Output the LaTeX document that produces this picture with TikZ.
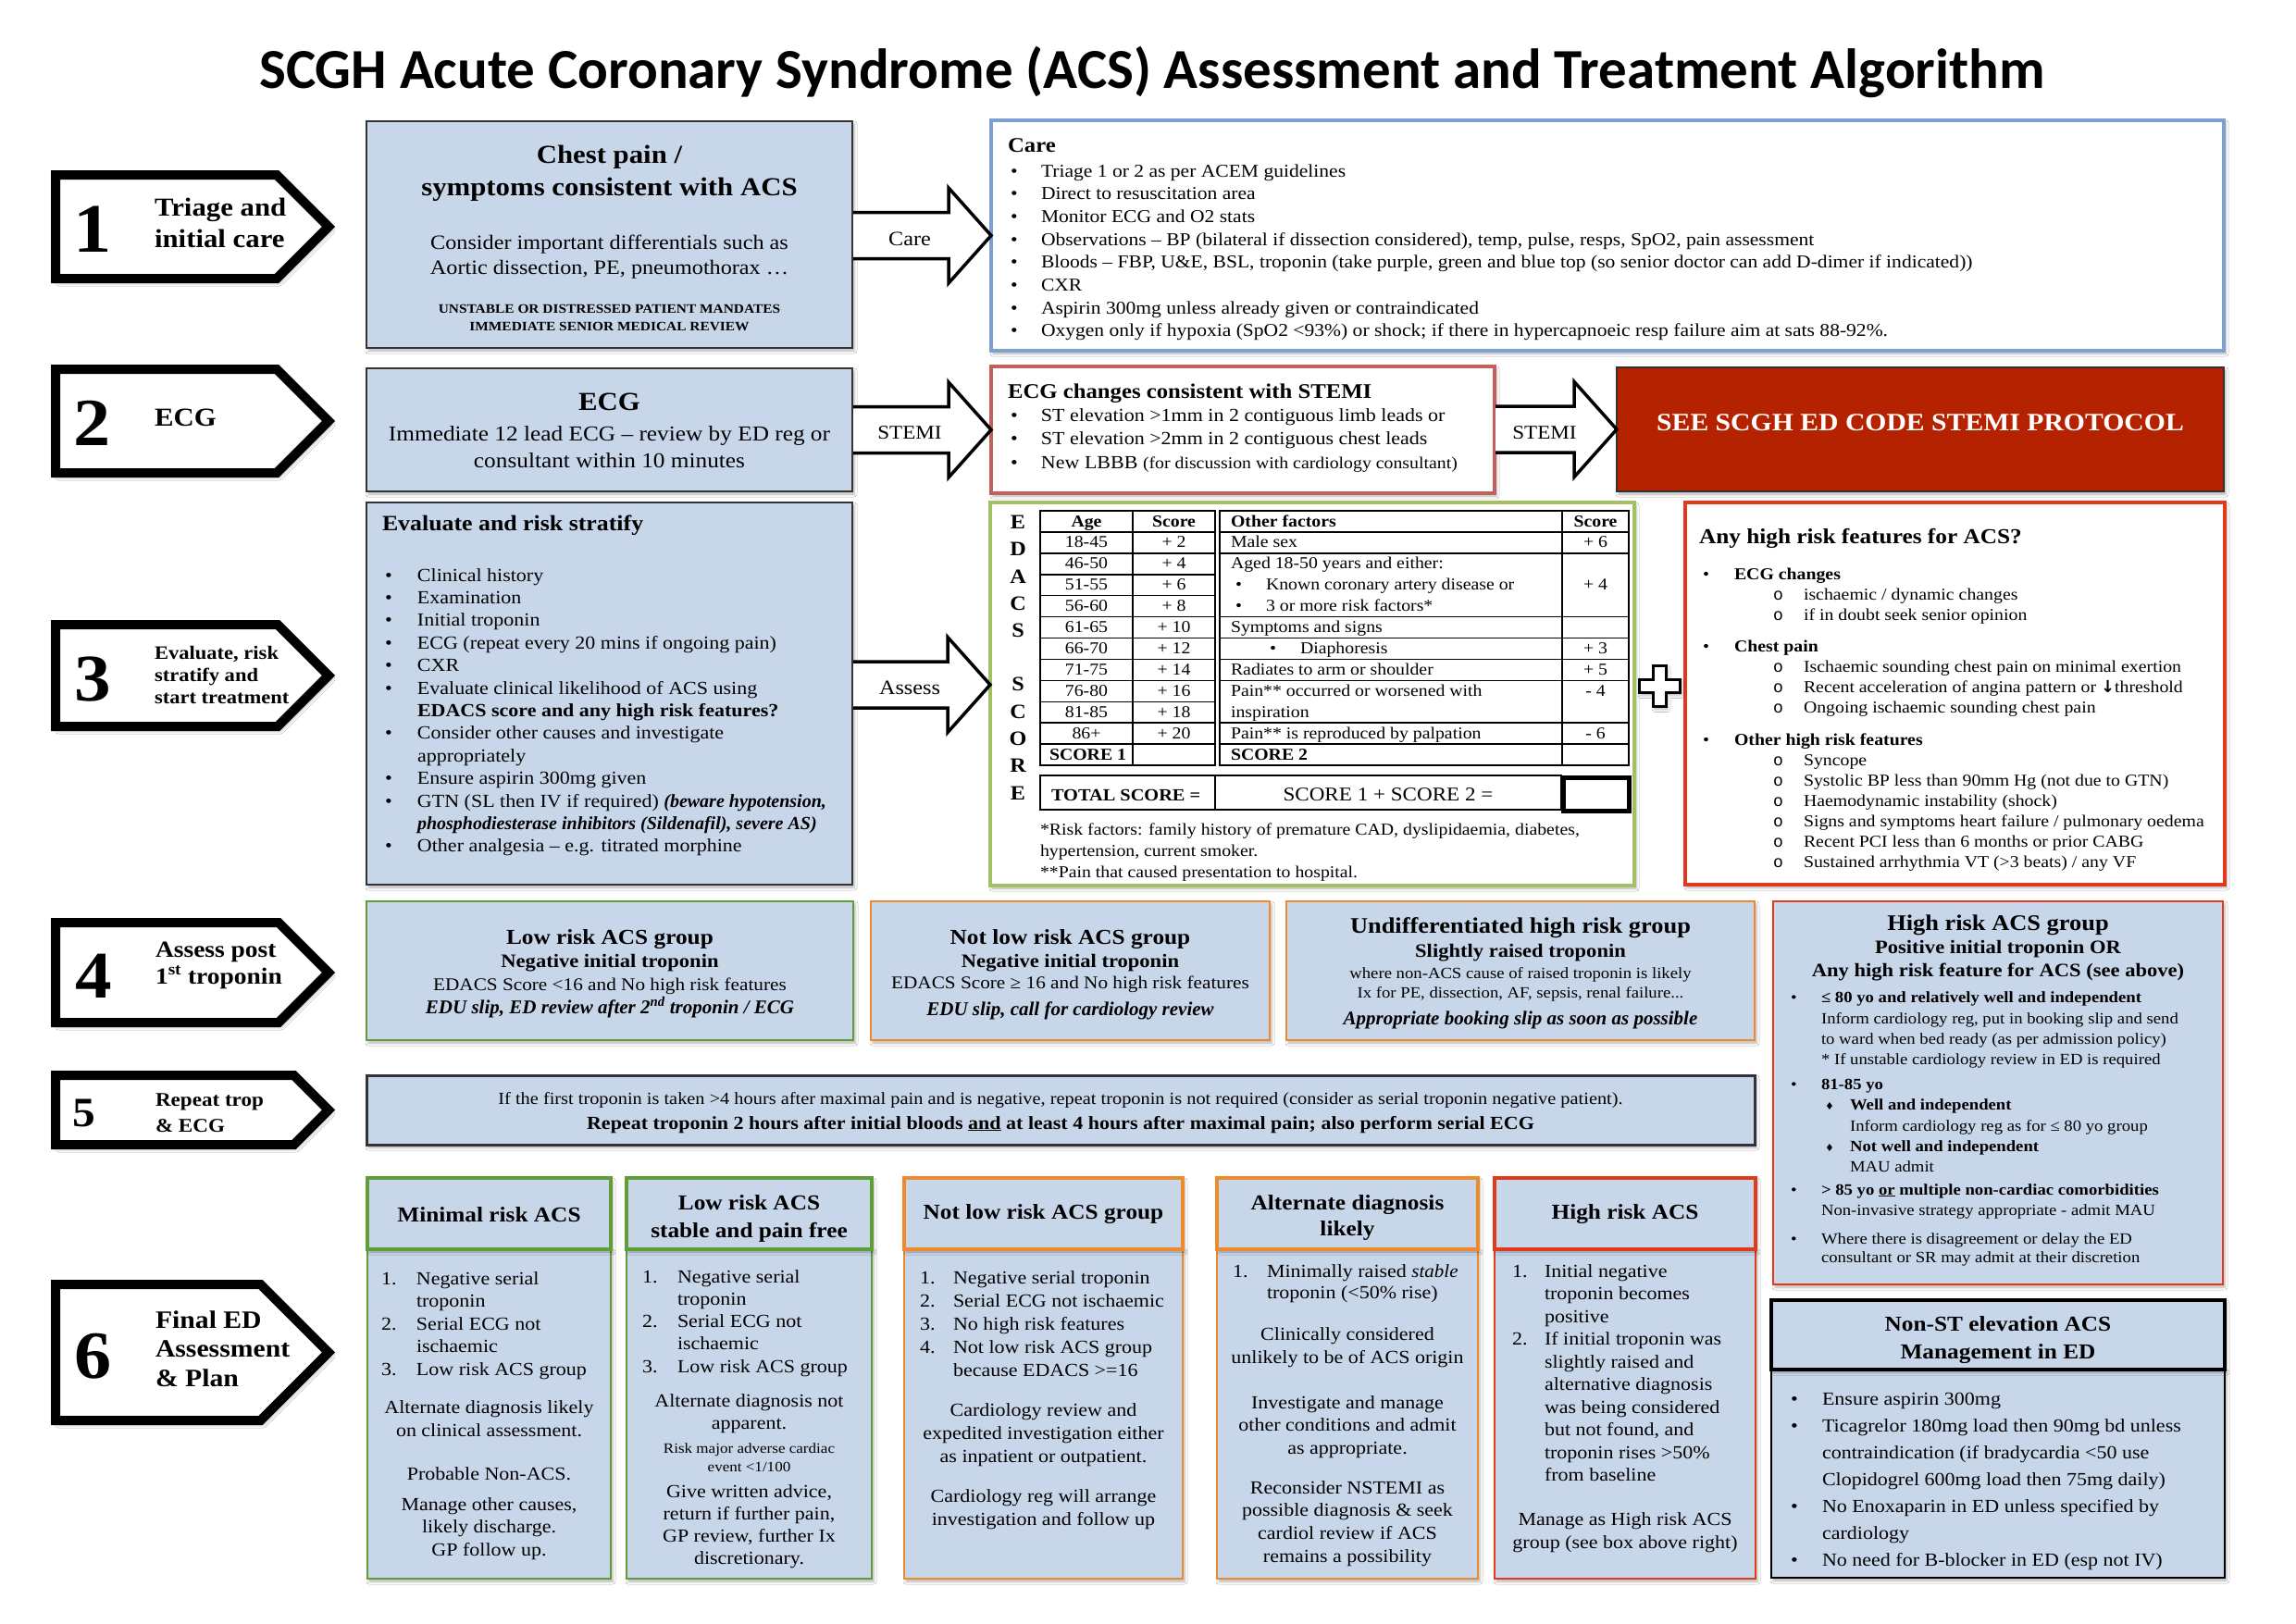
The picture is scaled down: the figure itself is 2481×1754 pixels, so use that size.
\documentclass[tikz,border=0pt]{standalone}
\usepackage{fontspec}
\setmainfont{Liberation Serif}[UprightFeatures={FakeStretch=1.1},BoldFeatures={FakeStretch=1.1},ItalicFeatures={FakeStretch=1.05},BoldItalicFeatures={FakeStretch=1.0}]
\newfontfamily\titlefont{Carlito}
\newfontfamily\symfont{DejaVu Sans}
\newfontfamily\bulmono{Liberation Mono}
\usetikzlibrary{calc,shadows.blur}
\definecolor{lblue}{HTML}{C8D6EA}
\definecolor{careblue}{HTML}{7E9FD1}
\definecolor{stemirose}{HTML}{C2605C}
\definecolor{stemired}{HTML}{B52200}
\definecolor{edgreen}{HTML}{A3C163}
\definecolor{grn}{HTML}{5F9E36}
\definecolor{org}{HTML}{EE8A2B}
\definecolor{hred}{HTML}{E2381B}
\definecolor{dgrey}{HTML}{333333}
\newcommand\fs[2]{\fontsize{#1pt}{#2pt}\selectfont}
\newcommand\bu[1]{\makebox[#1pt][l]{•}}
\newcommand\ob[1]{\makebox[#1pt][l]{{\bulmono o}}}
\newcommand\nm[2]{\makebox[#1pt][l]{#2}}
\newcommand\dia[1]{\makebox[#1pt][l]{{\symfont\fontsize{11pt}{11pt}\selectfont ♦}}}
\newcommand\ind[1]{\hspace*{#1pt}}
\newcommand\lt[1]{\begin{tabular}[t]{@{}l@{}}#1\end{tabular}}
\newcommand\ct[1]{\begin{tabular}[t]{@{}c@{}}#1\end{tabular}}
\newcommand\mkbox[6]{\node[#1,minimum width=#5pt-#3pt,minimum height=#6pt-#4pt] (#2) at (#3,#4) {};}
\newcommand\steparrow[2]{\draw[stepbox] (60,#1) -- ({355-(#2-#1)/2},#1) -- (355,{(#1+#2)/2}) -- ({355-(#2-#1)/2},#2) -- (60,#2) -- cycle;}
\newcommand\blockarr[2]{\draw[blockarrow] ($(#1 |- #2)+(1,-25)$) -- ($(#2)+(-46,-25)$) -- ($(#2)+(-46,-51.5)$) -- (#2) -- ($(#2)+(-46,51.5)$) -- ($(#2)+(-46,25)$) -- ($(#1 |- #2)+(1,25)$);}
\begin{document}
\begin{tikzpicture}[x=1pt,y=-1pt,
  every node/.style={inner sep=0pt,outer sep=0pt},
  shd/.style={blur shadow={shadow xshift=2pt,shadow yshift=-3pt,shadow blur radius=3pt,shadow opacity=30}},
  bx/.style={rectangle,draw,anchor=north west,shd},
  lbx/.style={bx,fill=lblue,draw=dgrey,line width=2pt},
  carebx/.style={bx,fill=white,draw=careblue,line width=4pt},
  stemibx/.style={bx,fill=white,draw=stemirose,line width=4pt},
  redbx/.style={bx,fill=stemired,draw=dgrey,line width=1.5pt},
  edbx/.style={bx,fill=white,draw=edgreen,line width=4pt},
  hrfbx/.style={bx,fill=white,draw=hred,line width=4pt},
  rowfour/.style={bx,fill=lblue,draw=#1,line width=2pt},
  hdr/.style={bx,fill=lblue,draw=#1,line width=4.5pt},
  bdy/.style={bx,fill=lblue,draw=#1,line width=1.5pt},
  tl/.style={anchor=base west},
  tc/.style={anchor=base},
  stepbox/.style={draw=black,line width=10pt,fill=white,line join=miter,blur shadow={shadow xshift=3pt,shadow yshift=-4pt,shadow blur radius=4pt,shadow opacity=40}},
  blockarrow/.style={draw=black,line width=3.5pt,fill=white,line join=miter},
  tbl/.style={draw=black,line width=1.5pt},
  plusst/.style={draw=black,line width=3pt,fill=white,line join=miter,shd}
]
\fill[white] (0,0) rectangle (2481,1754);
\useasboundingbox (0,0) rectangle (2481,1754);

% title
\node[tc,font=\titlefont\bfseries\fs{61}{61}] (title) at (1245,95) {SCGH Acute Coronary Syndrome (ACS) Assessment and Treatment Algorithm};

% step arrows
\steparrow{189}{301}
\steparrow{399}{511}
\steparrow{675}{785}
\steparrow{997}{1105}
\steparrow{1162}{1237}
\steparrow{1388}{1535}
\node[tc,font=\bfseries\fs{75}{75}] (n1) at (100,272) {1};
\node[tc,font=\bfseries\fs{73}{73}] (n2) at (100,481) {2};
\node[tc,font=\bfseries\fs{72}{72}] (n3) at (100,757) {3};
\node[tc,font=\bfseries\fs{72}{72}] (n4) at (101,1078) {4};
\node[tc,font=\bfseries\fs{45}{45}] (n5) at (91,1217) {5};
\node[tc,font=\bfseries\fs{73}{73}] (n6) at (101,1489) {6};
\node[tl,font=\bfseries\fs{28}{34}] (s1) at (167,233) {\lt{Triage and\\initial care}};
\node[tl,font=\bfseries\fs{28}{34}] (s2) at (167,460) {ECG};
\node[tl,font=\bfseries\fs{20.5}{24}] (s3) at (167,712) {\lt{Evaluate, risk\\stratify and\\start treatment}};
\node[tl,font=\bfseries\fs{25}{29}] (s4) at (168,1034) {\lt{Assess post\\1\textsuperscript{st} troponin}};
\node[tl,font=\bfseries\fs{21}{28}] (s5) at (168,1195) {\lt{Repeat trop\\\& ECG}};
\node[tl,font=\bfseries\fs{27}{31.5}] (s6) at (168,1435) {\lt{Final ED\\Assessment\\\& Plan}};

% row 1
\mkbox{lbx}{chest}{396}{131}{921}{376}
\mkbox{carebx}{care}{1071}{130}{2403}{379}
\node[tc,font=\bfseries\fs{28}{35}] (chestT) at (658.5,176) {\ct{Chest pain /\\symptoms consistent with ACS}};
\node[tc,font=\fs{22}{27}] (chestB) at (658.5,269) {\ct{Consider important differentials such as\\Aortic dissection, PE, pneumothorax …}};
\node[tc,font=\bfseries\fs{14}{19}] (chestU) at (658.5,338) {\ct{UNSTABLE OR DISTRESSED PATIENT MANDATES\\IMMEDIATE SENIOR MEDICAL REVIEW}};
\node[tl,font=\bfseries\fs{22.5}{25}] (careT) at (1089,164) {Care};
\node[tl,font=\fs{19.6}{24.7}] (careL) at (1092,191) {\lt{\bu{33}Triage 1 or 2 as per ACEM guidelines\\
\bu{33}Direct to resuscitation area\\
\bu{33}Monitor ECG and O2 stats\\
\bu{33}Observations – BP (bilateral if dissection considered), temp, pulse, resps, SpO2, pain assessment\\
\bu{33}Bloods – FBP, U\&E, BSL, troponin (take purple, green and blue top (so senior doctor can add D-dimer if indicated))\\
\bu{33}CXR\\
\bu{33}Aspirin 300mg unless already given or contraindicated\\
\bu{33}Oxygen only if hypoxia (SpO2 <93\%) or shock; if there in hypercapnoeic resp failure aim at sats 88-92\%.}};
\blockarr{chest.east}{care.west}
\node[tc,font=\fs{22}{22}] (lcare) at (983,265) {Care};

% row 2
\mkbox{lbx}{ecg}{396}{398}{921}{531}
\mkbox{stemibx}{stemi}{1071}{396}{1615}{533}
\mkbox{redbx}{redbox}{1747}{397}{2403}{531}
\node[tc,font=\bfseries\fs{28}{35}] (ecgT) at (658.5,443) {ECG};
\node[tc,font=\fs{23}{29}] (ecgB) at (658.5,476) {\ct{Immediate 12 lead ECG – review by ED reg or\\consultant within 10 minutes}};
\node[tl,font=\bfseries\fs{22.5}{25}] (stemiT) at (1089,430) {ECG changes consistent with STEMI};
\node[tl,font=\fs{20}{25.5}] (stemiL) at (1092,455) {\lt{\bu{33}ST elevation >1mm in 2 contiguous limb leads or\\
\bu{33}ST elevation >2mm in 2 contiguous chest leads\\
\bu{33}New LBBB {\fs{18}{25.5}(for discussion with cardiology consultant)}}};
\node[tc,font=\bfseries\fs{27}{27},text=white] (redT) at (2075,465) {SEE SCGH ED CODE STEMI PROTOCOL};
\blockarr{ecg.east}{stemi.west}
\blockarr{stemi.east}{redbox.west}
\node[tc,font=\fs{21}{21}] (lstemi1) at (983,474) {STEMI};
\node[tc,font=\fs{21}{21}] (lstemi2) at (1669,474) {STEMI};

% row 3
\mkbox{lbx}{eval}{396}{543}{921}{956}
\mkbox{edbx}{edacs}{1070}{543}{1766}{957}
\mkbox{hrfbx}{hrf}{1821}{543}{2404}{956}
\coordinate (assesstip) at (1070,740);
\blockarr{eval.east}{assesstip}
\node[tc,font=\fs{22}{22}] (lassess) at (983,750) {Assess};
\node[tl,font=\bfseries\fs{23.5}{25}] (evalT) at (413,573) {Evaluate and risk stratify};
\node[tl,font=\fs{20}{24.4}] (evalL) at (416,628) {\lt{\bu{35}Clinical history\\
\bu{35}Examination\\
\bu{35}Initial troponin\\
\bu{35}ECG (repeat every 20 mins if ongoing pain)\\
\bu{35}CXR\\
\bu{35}Evaluate clinical likelihood of ACS using\\
\ind{35}\textbf{EDACS score and any high risk features?}\\
\bu{35}Consider other causes and investigate\\
\ind{35}appropriately\\
\bu{35}Ensure aspirin 300mg given\\
\bu{35}GTN (SL then IV if required) \textbf{\textit{(beware hypotension,}}\\
\ind{35}\textbf{\textit{phosphodiesterase inhibitors (Sildenafil), severe AS)}}\\
\bu{35}Other analgesia – e.g. titrated morphine}};

% EDACS
\foreach \L/\Y [count=\k] in {E/571,D/600.5,A/630,C/659,S/688,S/746.5,C/776,O/805,R/834.5,E/864}
  {\node[tc,font=\bfseries\fs{22}{22}] (ed\k) at (1100,\Y) {\L};}
\draw[tbl] (1124,552) rectangle (1313,827);
\draw[tbl] (1224,552) -- (1224,827);
\foreach \i in {1,...,11} {\draw[tbl] (1124,{552+22.92*\i}) -- (1313,{552+22.92*\i});}
\draw[tbl] (1318,552) rectangle (1760,827);
\draw[tbl] (1688,552) -- (1688,827);
\foreach \i in {1,2,5,6,7,8,10,11} {\draw[tbl] (1318,{552+22.92*\i}) -- (1760,{552+22.92*\i});}
\draw[tbl] (1124,838) rectangle (1687,875);
\draw[tbl] (1313,838) -- (1313,875);
\draw[draw=black,line width=5pt] (1689,840) rectangle (1760,876);
\node[tc,font=\fs{18}{22.92}] (agecol) at (1174,569) {\ct{\textbf{Age}\\18-45\\46-50\\51-55\\56-60\\61-65\\66-70\\71-75\\76-80\\81-85\\86+}};
\node[tc,font=\fs{18}{22.92}] (sc1col) at (1268.5,569) {\ct{\textbf{Score}\\+ 2\\+ 4\\+ 6\\+ 8\\+ 10\\+ 12\\+ 14\\+ 16\\+ 18\\+ 20}};
\node[tl,font=\bfseries\fs{18}{22.92}] (score1) at (1134,821) {SCORE 1};
\node[tl,font=\fs{18}{22.92}] (othcol) at (1330,569) {\lt{\textbf{Other factors}\\Male sex\\Aged 18-50 years and either:\\
\ind{5}\bu{33}Known coronary artery disease or\\
\ind{5}\bu{33}3 or more risk factors*\\
Symptoms and signs\\
\ind{42}\bu{33}Diaphoresis\\
Radiates to arm or shoulder\\
Pain** occurred or worsened with\\
inspiration\\
Pain** is reproduced by palpation\\
\textbf{SCORE 2}}};
\node[tc,font=\fs{18}{22.92}] (sc2col) at (1724,569) {\ct{\textbf{Score}\\+ 6\\\mbox{}\\+ 4\\\mbox{}\\\mbox{}\\+ 3\\+ 5\\- 4\\\mbox{}\\- 6}};
\node[tl,font=\bfseries\fs{18.5}{21}] (total) at (1136,865) {TOTAL SCORE =};
\node[tc,font=\fs{21}{21}] (sum) at (1500,865) {SCORE 1 + SCORE 2 =};
\node[tl,font=\fs{18}{23}] (foot) at (1124,902) {\lt{*Risk factors: family history of premature CAD, dyslipidaemia, diabetes,\\hypertension, current smoker.\\{}**Pain that caused presentation to hospital.}};

% plus
\draw[plusst] (1786,719.5) -- (1800,719.5) -- (1800,734.5) -- (1815,734.5) -- (1815,748.5) -- (1800,748.5) -- (1800,763.5) -- (1786,763.5) -- (1786,748.5) -- (1771,748.5) -- (1771,734.5) -- (1786,734.5) -- cycle;

% high risk features
\node[tl,font=\bfseries\fs{23}{25}] (hrfT) at (1836,587) {Any high risk features for ACS?};
\node[tl,font=\fs{18}{22}] (hrfL) at (1840,626) {\lt{\bu{34}\textbf{ECG changes}\\
\ind{76}\ob{33}ischaemic / dynamic changes\\
\ind{76}\ob{33}if in doubt seek senior opinion\\[12pt]
\bu{34}\textbf{Chest pain}\\
\ind{76}\ob{33}Ischaemic sounding chest pain on minimal exertion\\
\ind{76}\ob{33}Recent acceleration of angina pattern or {\symfont\bfseries ↓}threshold\\
\ind{76}\ob{33}Ongoing ischaemic sounding chest pain\\[13pt]
\bu{34}\textbf{Other high risk features}\\
\ind{76}\ob{33}Syncope\\
\ind{76}\ob{33}Systolic BP less than 90mm Hg (not due to GTN)\\
\ind{76}\ob{33}Haemodynamic instability (shock)\\
\ind{76}\ob{33}Signs and symptoms heart failure / pulmonary oedema\\
\ind{76}\ob{33}Recent PCI less than 6 months or prior CABG\\
\ind{76}\ob{33}Sustained arrhythmia VT (>3 beats) / any VF}};

% row 4
\mkbox{rowfour=grn}{low4}{396}{974}{922}{1124}
\mkbox{rowfour=org}{notlow4}{941}{974}{1372}{1124}
\mkbox{rowfour=org}{undiff4}{1390}{974}{1896}{1124}
\mkbox{rowfour=hred}{high4}{1916}{974}{2402}{1388}
\node[tc,font=\bfseries\fs{23}{25}] (low4a) at (659,1020) {Low risk ACS group};
\node[tc,font=\bfseries\fs{20.5}{25}] (low4b) at (659,1045) {Negative initial troponin};
\node[tc,font=\fs{19.3}{25}] (low4c) at (659,1070) {EDACS Score <16 and No high risk features};
\node[tc,font=\bfseries\itshape\fs{21}{25}] (low4d) at (659,1095) {EDU slip, ED review after 2\textsuperscript{nd} troponin / ECG};
\node[tc,font=\bfseries\fs{23}{25}] (nl4a) at (1156.5,1020) {Not low risk ACS group};
\node[tc,font=\bfseries\fs{20.5}{25}] (nl4b) at (1156.5,1045) {Negative initial troponin};
\node[tc,font=\fs{19.3}{25}] (nl4c) at (1156.5,1068) {EDACS Score ≥ 16 and No high risk features};
\node[tc,font=\bfseries\itshape\fs{21}{25}] (nl4d) at (1156.5,1097) {EDU slip, call for cardiology review};
\node[tc,font=\bfseries\fs{24}{25}] (ud4a) at (1643,1008) {Undifferentiated high risk group};
\node[tc,font=\bfseries\fs{20.5}{25}] (ud4b) at (1643,1034) {Slightly raised troponin};
\node[tc,font=\fs{17}{21}] (ud4c) at (1643,1057) {\ct{where non-ACS cause of raised troponin is likely\\Ix for PE, dissection, AF, sepsis, renal failure...}};
\node[tc,font=\bfseries\itshape\fs{21}{25}] (ud4d) at (1643,1107) {Appropriate booking slip as soon as possible};
\node[tc,font=\bfseries\fs{24}{25}] (h4a) at (2159,1005) {High risk ACS group};
\node[tc,font=\bfseries\fs{20.5}{25}] (h4b) at (2159,1030) {\ct{Positive initial troponin OR\\Any high risk feature for ACS (see above)}};
\node[tl,font=\fs{17}{22}] (h4L) at (1935,1083) {\lt{\bu{33}\textbf{≤ 80 yo and relatively well and independent}\\[1pt]
\ind{33}Inform cardiology reg, put in booking slip and send\\
\ind{33}to ward when bed ready (as per admission policy)\\
\ind{33}* If unstable cardiology review in ED is required\\[5pt]
\bu{33}\textbf{81-85 yo}\\
\ind{37}\dia{27}\textbf{Well and independent}\\[1pt]
\ind{64}Inform cardiology reg as for ≤ 80 yo group\\
\ind{37}\dia{27}\textbf{Not well and independent}\\
\ind{64}MAU admit\\[3pt]
\bu{33}\textbf{> 85 yo \underline{or} multiple non-cardiac comorbidities}\\
\ind{33}Non-invasive strategy appropriate - admit MAU\\[9pt]
\bu{33}Where there is disagreement or delay the ED\\[-2pt]
\ind{33}consultant or SR may admit at their discretion}};

% row 5
\mkbox{lbx,line width=3pt}{rep5}{396}{1162}{1896}{1237}
\node[tc,font=\fs{18.5}{27}] (rep5a) at (1146,1193) {If the first troponin is taken >4 hours after maximal pain and is negative, repeat troponin is not required (consider as serial troponin negative patient).};
\node[tc,font=\bfseries\fs{20}{27}] (rep5b) at (1146,1220) {Repeat troponin 2 hours after initial bloods \underline{and} at least 4 hours after maximal pain; also perform serial ECG};

% row 6 bodies and headers
\mkbox{bdy=grn}{min6b}{397}{1350}{660}{1706}
\mkbox{hdr=grn}{min6h}{397}{1273}{660}{1350}
\mkbox{bdy=grn}{ls6b}{677}{1350}{942}{1706}
\mkbox{hdr=grn}{ls6h}{677}{1273}{942}{1350}
\mkbox{bdy=org}{nl6b}{977}{1350}{1278}{1706}
\mkbox{hdr=org}{nl6h}{977}{1273}{1278}{1350}
\mkbox{bdy=org}{alt6b}{1315}{1350}{1597}{1706}
\mkbox{hdr=org}{alt6h}{1315}{1273}{1597}{1350}
\mkbox{bdy=hred}{hi6b}{1615}{1350}{1897}{1706}
\mkbox{hdr=hred}{hi6h}{1615}{1273}{1897}{1350}
\mkbox{bdy=black}{ns6b}{1914}{1480}{2404}{1705}
\mkbox{hdr=black}{ns6h}{1914}{1405}{2404}{1480}

\node[tc,font=\bfseries\fs{23}{30}] (min6t) at (528.5,1320) {Minimal risk ACS};
\node[tl,font=\fs{20}{24.5}] (min6l) at (412,1388) {\lt{\nm{38}{1.}Negative serial\\\ind{38}troponin\\\nm{38}{2.}Serial ECG not\\\ind{38}ischaemic\\\nm{38}{3.}Low risk ACS group}};
\node[tc,font=\fs{20}{25}] (min6c) at (528.5,1527) {\ct{Alternate diagnosis likely\\on clinical assessment.}};
\node[tc,font=\fs{20}{24.5}] (min6d) at (528.5,1599) {Probable Non-ACS.};
\node[tc,font=\fs{20}{24.5}] (min6e) at (528.5,1632) {\ct{Manage other causes,\\likely discharge.\\GP follow up.}};

\node[tc,font=\bfseries\fs{23}{30}] (ls6t) at (809.5,1307) {\ct{Low risk ACS\\stable and pain free}};
\node[tl,font=\fs{20}{24.3}] (ls6l) at (694,1386) {\lt{\nm{38}{1.}Negative serial\\\ind{38}troponin\\\nm{38}{2.}Serial ECG not\\\ind{38}ischaemic\\\nm{38}{3.}Low risk ACS group}};
\node[tc,font=\fs{20}{24}] (ls6c) at (809.5,1520) {\ct{Alternate diagnosis not\\apparent.}};
\node[tc,font=\fs{15.5}{20}] (ls6d) at (809.5,1570) {\ct{Risk major adverse cardiac\\event <1/100}};
\node[tc,font=\fs{20}{24.3}] (ls6e) at (809.5,1618) {\ct{Give written advice,\\return if further pain,\\GP review, further Ix\\discretionary.}};

\node[tc,font=\bfseries\fs{23}{30}] (nl6t) at (1127.5,1317) {Not low risk ACS group};
\node[tl,font=\fs{20}{25}] (nl6l) at (994,1387) {\lt{\nm{36}{1.}Negative serial troponin\\\nm{36}{2.}Serial ECG not ischaemic\\\nm{36}{3.}No high risk features\\\nm{36}{4.}Not low risk ACS group\\\ind{36}because EDACS >=16}};
\node[tc,font=\fs{20}{25}] (nl6c) at (1127.5,1530) {\ct{Cardiology review and\\expedited investigation either\\as inpatient or outpatient.}};
\node[tc,font=\fs{20}{25}] (nl6d) at (1127.5,1623) {\ct{Cardiology reg will arrange\\investigation and follow up}};

\node[tc,font=\bfseries\fs{23}{28}] (alt6t) at (1456,1307) {\ct{Alternate diagnosis\\likely}};
\node[tl,font=\fs{20}{23}] (alt6l) at (1332,1380) {\lt{\nm{37}{1.}Minimally raised \textit{stable}\\\ind{37}troponin (<50\% rise)}};
\node[tc,font=\fs{20}{25}] (alt6c) at (1456,1448) {\ct{Clinically considered\\unlikely to be of ACS origin}};
\node[tc,font=\fs{20}{24.5}] (alt6d) at (1456,1522) {\ct{Investigate and manage\\other conditions and admit\\as appropriate.}};
\node[tc,font=\fs{20}{24.7}] (alt6e) at (1456,1614) {\ct{Reconsider NSTEMI as\\possible diagnosis \& seek\\cardiol review if ACS\\remains a possibility}};

\node[tc,font=\bfseries\fs{23}{30}] (hi6t) at (1756,1317) {High risk ACS};
\node[tl,font=\fs{20}{24.5}] (hi6l) at (1634,1380) {\lt{\nm{35}{1.}Initial negative\\\ind{35}troponin becomes\\\ind{35}positive\\\nm{35}{2.}If initial troponin was\\\ind{35}slightly raised and\\\ind{35}alternative diagnosis\\\ind{35}was being considered\\\ind{35}but not found, and\\\ind{35}troponin rises >50\%\\\ind{35}from baseline}};
\node[tc,font=\fs{20}{25}] (hi6c) at (1756,1648) {\ct{Manage as High risk ACS\\group (see box above right)}};

\node[tc,font=\bfseries\fs{23}{30}] (ns6t) at (2159,1438) {\ct{Non-ST elevation ACS\\Management in ED}};
\node[tl,font=\fs{20}{29}] (ns6l) at (1935,1518) {\lt{\bu{34}Ensure aspirin 300mg\\
\bu{34}Ticagrelor 180mg load then 90mg bd unless\\
\ind{34}contraindication (if bradycardia <50 use\\
\ind{34}Clopidogrel 600mg load then 75mg daily)\\
\bu{34}No Enoxaparin in ED unless specified by\\
\ind{34}cardiology\\
\bu{34}No need for B-blocker in ED (esp not IV)}};
\end{tikzpicture}
\end{document}
